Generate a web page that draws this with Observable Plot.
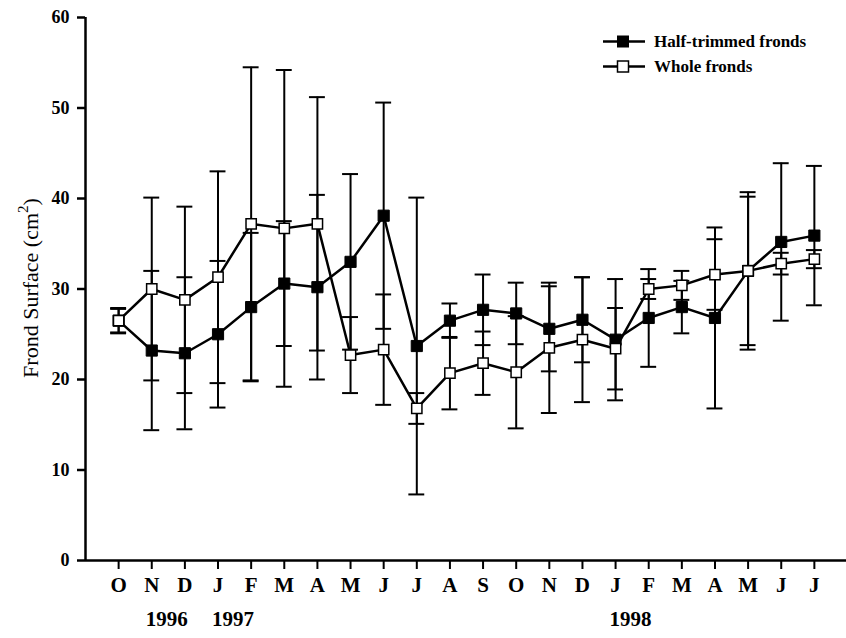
<!DOCTYPE html>
<html><head><meta charset="utf-8">
<script src="https://cdn.jsdelivr.net/npm/d3@7"></script>
<script src="https://cdn.jsdelivr.net/npm/@observablehq/plot@0.6"></script>
<style>body{margin:0;background:#fff} #chart svg{display:block}</style>
</head><body><div id="chart"></div>
<script>
const months = ["O","N","D","J","F","M","A","M","J","J","A","S","O","N","D","J","F","M","A","M","J","J"];
const halfMean = [26.5, 23.2, 22.9, 25.0, 28.0, 30.6, 30.2, 33.0, 38.1, 23.7, 26.5, 27.7, 27.3, 25.6, 26.6, 24.4, 26.8, 28.0, 26.8, 32.0, 35.2, 35.9];
const halfErr  = [1.3, 8.8, 8.4, 8.1, 8.2, 6.9, 10.2, 9.7, 12.5, 16.4, 1.9, 3.9, 3.4, 4.7, 4.7, 6.7, 5.4, 2.9, 10.0, 8.7, 8.7, 7.7];
const wholeMean = [26.5, 30.0, 28.8, 31.3, 37.2, 36.7, 37.2, 22.7, 23.3, 16.8, 20.7, 21.8, 20.8, 23.5, 24.4, 23.4, 30.0, 30.4, 31.6, 32.0, 32.8, 33.3];
const wholeErr  = [1.4, 10.1, 10.3, 11.7, 17.3, 17.5, 14.0, 4.2, 6.1, 1.7, 4.0, 3.5, 6.2, 7.2, 6.9, 4.5, 1.1, 1.6, 3.9, 8.2, 1.2, 1.0];
const yTicks = [0, 10, 20, 30, 40, 50, 60];
const years = ["1996", "1997", "1998"];
const yearIndex = [1, 3, 15];
const seriesNames = ["Half-trimmed fronds", "Whole fronds"];

const half = months.map((m, i) => ({i, series: seriesNames[0], mean: halfMean[i], err: halfErr[i]}));
const whole = months.map((m, i) => ({i, series: seriesNames[1], mean: wholeMean[i], err: wholeErr[i]}));
const rows = half.concat(whole);

const font = "'Liberation Serif','Times New Roman',serif";

const plot = Plot.plot({
  width: 846, height: 638,
  marginTop: 17, marginBottom: 78, marginLeft: 85, marginRight: 0,
  style: {fontFamily: font, background: "white", color: "black"},
  x: {domain: [-1, 21.97], axis: null},
  y: {domain: [0, 60], axis: null},
  marks: [
    Plot.ruleX([-1], {y1: 0, y2: 60, stroke: "black", strokeWidth: 2.5}),
    Plot.ruleY([0], {stroke: "black", strokeWidth: 2.5}),
    Plot.axisY({ticks: yTicks, tickSize: 8, tickPadding: 8, fontSize: 18, fontWeight: "bold", strokeWidth: 2.5, label: null}),
    Plot.axisX({ticks: d3.range(months.length), tickFormat: i => months[i], tickSize: 9, tickPadding: 8, fontSize: 21, fontWeight: "bold", strokeWidth: 2, label: null}),
    Plot.text(years, {x: (d, k) => yearIndex[k], frameAnchor: "bottom", dy: 65, text: d => d, textAnchor: "start", dx: -6, fontSize: 21, fontWeight: "bold"}),
    Plot.ruleX(rows, {x: "i", y1: d => d.mean - d.err, y2: d => d.mean + d.err, stroke: "black", strokeWidth: 2}),
    Plot.ruleY(rows, {y: d => d.mean + d.err, x1: d => d.i - 0.24, x2: d => d.i + 0.24, stroke: "black", strokeWidth: 2}),
    Plot.ruleY(rows, {y: d => d.mean - d.err, x1: d => d.i - 0.24, x2: d => d.i + 0.24, stroke: "black", strokeWidth: 2}),
    Plot.line(half, {x: "i", y: "mean", stroke: "black", strokeWidth: 2.5}),
    Plot.line(whole, {x: "i", y: "mean", stroke: "black", strokeWidth: 2.5}),
    Plot.dot(half, {x: "i", y: "mean", symbol: "square", r: 6.3, fill: "black", stroke: "black", strokeWidth: 1}),
    Plot.dot(whole, {x: "i", y: "mean", symbol: "square", r: 5.8, fill: "white", stroke: "black", strokeWidth: 1.5})
  ]
});

const svg = d3.select(plot);
// y-axis title
const yl = svg.append("text")
  .attr("transform", "translate(38,288) rotate(-90)")
  .attr("text-anchor", "middle")
  .attr("font-family", font)
  .attr("font-size", 22)
  .attr("fill", "black");
yl.append("tspan").text("Frond Surface (cm");
yl.append("tspan").attr("font-size", 15).attr("dy", -10).text("2");
yl.append("tspan").attr("dy", 10).text(")");

// legend
const lg = svg.append("g").attr("font-family", font).attr("text-anchor", "start");
seriesNames.forEach((name, k) => {
  const y = 41.5 + k * 25;
  lg.append("line").attr("x1", 603).attr("x2", 645).attr("y1", y).attr("y2", y).attr("stroke", "black").attr("stroke-width", 2.5);
  lg.append("rect").attr("x", 623 - 5.5).attr("y", y - 5.5).attr("width", 11).attr("height", 11)
    .attr("fill", k === 0 ? "black" : "white").attr("stroke", "black").attr("stroke-width", k === 0 ? 1 : 1.5);
  lg.append("text").attr("x", 654).attr("y", y).attr("dy", "0.35em").attr("text-anchor", "start")
    .attr("font-size", 17).attr("font-weight", "bold").attr("fill", "black").text(name);
});

document.getElementById("chart").appendChild(plot);
</script>
</body></html>
